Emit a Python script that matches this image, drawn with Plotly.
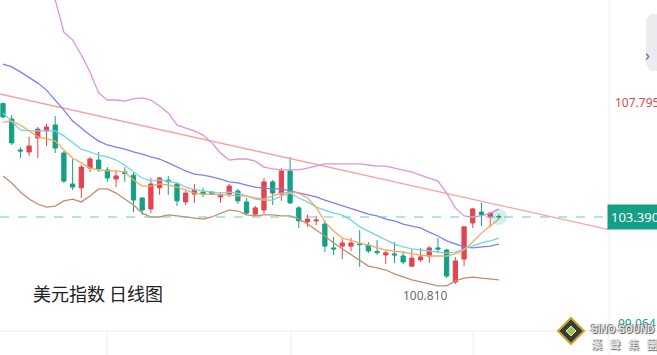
import plotly.graph_objects as go

# ---------------- data ----------------
day = list(range(58))

open_ = [107.75, 107.16, 105.97, 105.89, 106.43, 106.70, 106.93, 105.85, 104.66, 104.51,
         105.27, 105.58, 105.20, 104.85, 105.12, 105.00, 104.12, 103.70, 104.51, 104.81,
         104.66, 103.97, 104.27, 104.35, 104.35, 104.16, 104.27, 104.39, 103.97, 103.50,
         103.66, 104.74, 104.27, 105.16, 103.74, 103.20, 103.24, 103.12, 102.20, 102.27,
         102.27, 102.35, 102.31, 102.06, 101.93, 101.97, 101.89, 101.50, 101.74, 101.89,
         102.20, 102.12, 100.89, 101.77, 103.16, 103.58, 103.39, 103.41]
high = [107.795, 107.31, 106.08, 106.47, 106.85, 106.97, 107.27, 105.93, 105.62, 105.39,
        105.70, 105.89, 105.31, 105.20, 105.31, 105.12, 104.16, 104.89, 104.93, 104.97,
        104.70, 104.39, 104.66, 104.51, 104.39, 104.35, 104.66, 104.47, 104.12, 103.81,
        104.89, 104.81, 105.27, 105.70, 103.81, 103.47, 103.43, 103.27, 102.62, 102.54,
        102.58, 102.89, 102.43, 102.50, 102.12, 102.43, 102.08, 102.16, 102.20, 102.27,
        102.58, 102.16, 101.85, 103.04, 103.74, 103.93, 103.58, 103.50]
low = [107.20, 106.16, 105.66, 105.74, 105.66, 106.12, 105.85, 104.70, 104.43, 104.12,
       105.12, 105.12, 104.74, 104.54, 104.74, 103.58, 103.47, 103.54, 104.24, 104.24,
       103.81, 103.85, 103.93, 104.16, 104.24, 103.93, 104.16, 103.89, 103.47, 103.43,
       103.50, 103.85, 104.01, 103.89, 102.97, 103.01, 103.08, 102.04, 101.93, 101.77,
       102.08, 101.47, 102.01, 101.93, 101.58, 101.62, 101.58, 101.47, 101.66, 101.62,
       102.01, 101.04, 100.81, 101.50, 102.97, 103.04, 103.00, 103.31]
close = [107.24, 106.24, 105.93, 106.12, 106.77, 106.85, 106.04, 104.77, 104.54, 105.31,
         105.62, 105.24, 104.89, 104.97, 105.06, 104.04, 103.66, 104.66, 104.89, 104.74,
         104.01, 104.31, 104.43, 104.27, 104.27, 104.24, 104.58, 104.01, 103.54, 103.74,
         104.74, 104.31, 105.16, 103.93, 103.24, 103.31, 103.27, 102.27, 102.16, 102.39,
         102.39, 102.33, 102.08, 102.02, 102.01, 101.93, 101.66, 101.81, 101.85, 102.20,
         102.16, 101.12, 101.70, 103.01, 103.70, 103.47, 103.54, 103.39]

boll_upper = [117.9, 116.7, 115.6, 114.6, 113.7, 112.7, 111.74, 110.50, 110.20, 109.62,
              108.97, 108.16, 107.89, 107.89, 107.85, 107.93, 107.97, 107.89, 107.66, 107.39,
              106.93, 106.81, 106.70, 106.54, 106.24, 105.85, 105.58, 105.62, 105.62, 105.54,
              105.31, 105.24, 105.20, 105.20, 105.20, 105.27, 105.35, 105.43, 105.43, 105.43,
              105.43, 105.43, 105.39, 105.35, 105.35, 105.27, 105.20, 105.12, 105.00, 104.89,
              104.77, 104.31, 103.74, 103.43, 103.39, 103.43, 103.54, 103.70]
boll_mid = [109.27, 109.16, 108.97, 108.77, 108.54, 108.27, 107.89, 107.50, 107.08, 106.81,
            106.54, 106.31, 106.16, 106.08, 106.00, 105.89, 105.81, 105.70, 105.62, 105.47,
            105.31, 105.16, 105.04, 105.00, 104.93, 104.85, 104.74, 104.70, 104.62, 104.54,
            104.50, 104.47, 104.47, 104.39, 104.31, 104.24, 104.16, 104.04, 103.93, 103.81,
            103.70, 103.58, 103.50, 103.43, 103.31, 103.24, 103.12, 103.04, 102.97, 102.81,
            102.66, 102.47, 102.35, 102.24, 102.20, 102.24, 102.27, 102.35]
boll_lower = [104.97, 104.70, 104.35, 104.08, 103.89, 103.77, 103.81, 104.01, 104.08, 103.97,
              104.20, 104.47, 104.47, 104.31, 104.08, 103.85, 103.54, 103.39, 103.39, 103.47,
              103.43, 103.39, 103.35, 103.31, 103.39, 103.54, 103.66, 103.62, 103.47, 103.43,
              103.47, 103.47, 103.43, 103.43, 103.31, 103.12, 102.89, 102.66, 102.39, 102.16,
              101.93, 101.70, 101.50, 101.43, 101.35, 101.20, 101.08, 100.97, 100.89, 100.81,
              100.74, 100.74, 100.93, 101.04, 101.08, 101.04, 101.01, 100.97]
ma5 = [107.04, 107.08, 106.93, 106.70, 106.47, 106.39, 106.31, 105.97, 105.66, 105.47,
       105.27, 105.20, 105.16, 105.16, 105.12, 104.81, 104.58, 104.58, 104.66, 104.62,
       104.54, 104.43, 104.31, 104.27, 104.27, 104.24, 104.24, 104.20, 104.20, 104.12,
       104.08, 104.20, 104.31, 104.35, 104.31, 104.12, 103.77, 103.20, 102.85, 102.58,
       102.47, 102.39, 102.31, 102.20, 102.12, 102.08, 102.04, 101.97, 101.93, 101.89,
       101.89, 101.89, 101.97, 102.12, 102.43, 102.77, 103.04, 103.31]
ma10 = [107.39, 107.08, 106.74, 106.70, 106.70, 106.70, 106.70, 106.51, 106.27, 106.00,
        105.89, 105.77, 105.70, 105.58, 105.39, 105.12, 104.89, 104.77, 104.81, 104.77,
        104.70, 104.54, 104.43, 104.39, 104.35, 104.31, 104.35, 104.31, 104.20, 104.08,
        104.04, 104.04, 104.20, 104.31, 104.12, 103.97, 103.77, 103.66, 103.54, 103.47,
        103.27, 103.01, 102.85, 102.66, 102.50, 102.35, 102.24, 102.16, 102.12, 102.08,
        102.04, 102.00, 102.04, 102.16, 102.27, 102.39, 102.47, 102.58]

trend_x = [-1, 70]
trend_y = [108.17, 102.88]

last_price = 103.390
axis_high = 107.795
axis_low = 99.064
low_mark = 100.810
title = "美元指数 日线图"

# ---------------- figure ----------------
RED = "#e2454f"
TEAL = "#14a085"

fig = go.Figure()

fig.add_trace(go.Scatter(x=trend_x, y=trend_y, mode="lines",
                         line=dict(color="#f7a3a0", width=1.3), hoverinfo="skip"))
fig.add_trace(go.Scatter(x=day, y=boll_upper, mode="lines",
                         line=dict(color="#e092e0", width=1.3), hoverinfo="skip"))
fig.add_trace(go.Scatter(x=day, y=boll_mid, mode="lines",
                         line=dict(color="#7d7ff0", width=1.3), hoverinfo="skip"))
fig.add_trace(go.Scatter(x=day, y=boll_lower, mode="lines",
                         line=dict(color="#c48c6c", width=1.3), hoverinfo="skip"))
fig.add_trace(go.Scatter(x=day, y=ma10, mode="lines",
                         line=dict(color="#72d6ea", width=1.3), hoverinfo="skip"))
fig.add_trace(go.Scatter(x=day, y=ma5, mode="lines",
                         line=dict(color="#f8a762", width=1.3), hoverinfo="skip"))

fig.add_trace(go.Candlestick(
    x=day, open=open_, high=high, low=low, close=close,
    increasing=dict(line=dict(color=RED, width=1), fillcolor=RED),
    decreasing=dict(line=dict(color=TEAL, width=1), fillcolor=TEAL),
    whiskerwidth=0, hoverinfo="skip"))

# glow on the last candle
fig.add_trace(go.Scatter(x=[day[-1]], y=[close[-1]], mode="markers",
                         marker=dict(size=16, color="rgba(20,160,133,0.18)"), hoverinfo="skip"))

# last-price dashed line
fig.add_hline(y=last_price, line=dict(color="#66ccb8", width=1, dash="dash"))

fig.update_layout(
    width=657, height=355,
    margin=dict(l=0, r=48, t=0, b=24),
    paper_bgcolor="white", plot_bgcolor="white",
    showlegend=False,
    boxgap=0.3,
    xaxis=dict(range=[-0.345, 69.66], visible=False, rangeslider=dict(visible=False), fixedrange=True),
    yaxis=dict(range=[99.005, 111.736], visible=False),
    font=dict(family="Noto Sans, Noto Sans CJK SC, sans-serif"),
)

# frame lines (right axis separator, bottom axis area)
fig.add_shape(type="line", xref="paper", yref="paper", x0=1, x1=1, y0=1, y1=-24/331,
              line=dict(color="#eeeeee", width=1))
fig.add_shape(type="line", xref="paper", yref="paper", x0=0, x1=657/609, y0=0, y1=0,
              line=dict(color="#eeeeee", width=1))
for px in [107, 291, 473]:
    fig.add_shape(type="line", xref="paper", yref="paper", x0=px/609, x1=px/609, y0=0, y1=-24/331,
                  line=dict(color="#eeeeee", width=1))

# chevron button at top right
def pp(x, y):
    return f"{x/609:.5f},{1 - y/331:.5f}"
fig.add_shape(type="path", xref="paper", yref="paper",
              path=f"M {pp(657,14)} L {pp(650,14)} L {pp(646,20)} L {pp(646,65)} L {pp(650,71)} L {pp(657,71)} Z",
              fillcolor="#ececf0", line=dict(width=0))
fig.add_annotation(xref="paper", yref="paper", x=652/609, y=1 - 42/331, text="›",
                   showarrow=False, font=dict(size=16, color="#666a75"))

# right-axis labels
fig.add_annotation(xref="paper", yref="y", x=1, xshift=4, y=axis_high, xanchor="left", yanchor="middle",
                   text=f"{axis_high:.3f}", showarrow=False, font=dict(size=12, color=RED))
fig.add_annotation(xref="paper", yref="y", x=1, xshift=-2, y=last_price, xanchor="left", yanchor="middle",
                   text=f"{last_price:.3f}", showarrow=False, bgcolor=TEAL, borderpad=3,
                   font=dict(size=13, color="white"))
fig.add_annotation(xref="paper", yref="y", x=1, xshift=7, y=axis_low, yshift=6, xanchor="left", yanchor="middle",
                   text=f"{axis_low:.3f}", showarrow=False, font=dict(size=12, color=TEAL))

# low mark
fig.add_annotation(x=day[low.index(low_mark)], y=low_mark, xanchor="right", yanchor="top",
                   xshift=-5, yshift=-1, text=f"{low_mark:.3f}", showarrow=False,
                   font=dict(size=12, color="#6a6a6a"))

# title text
fig.add_annotation(xref="paper", yref="paper", x=31/609, y=1 - 293/331, xanchor="left", yanchor="middle",
                   text=title, showarrow=False, font=dict(size=18, color="#222222", family="Noto Sans CJK SC"))

# watermark logo
fig.add_shape(type="path", xref="paper", yref="paper",
              path=f"M {pp(571,318)} L {pp(584,331)} L {pp(571,344)} L {pp(558,331)} Z",
              fillcolor="#3a3a3a", line=dict(color="#c8a820", width=2))
fig.add_shape(type="path", xref="paper", yref="paper",
              path=f"M {pp(571,326)} L {pp(576,331)} L {pp(571,336)} L {pp(566,331)} Z",
              fillcolor="#9ccc3a", line=dict(color="#e8e8e8", width=1))
fig.add_annotation(xref="paper", yref="paper", x=589/609, y=1 - 329/331, xanchor="left", yanchor="middle",
                   text="<b>SiNO SOUND</b>", showarrow=False,
                   font=dict(size=10, color="#e6e6e6", family="Liberation Sans",
                             shadow="1px 1px 1px #555, -1px -1px 1px #777"))
fig.add_annotation(xref="paper", yref="paper", x=589/609, y=1 - 344/331, xanchor="left", yanchor="middle",
                   text="<b>漢   聲   集   團</b>", showarrow=False,
                   font=dict(size=11, color="#e2e2e2", family="Noto Sans CJK TC",
                             shadow="1px 1px 1px #666"))

fig.write_html("out.html", config={"displayModeBar": False},
               post_script="document.body.style.margin='0';document.body.style.overflow='hidden';")
